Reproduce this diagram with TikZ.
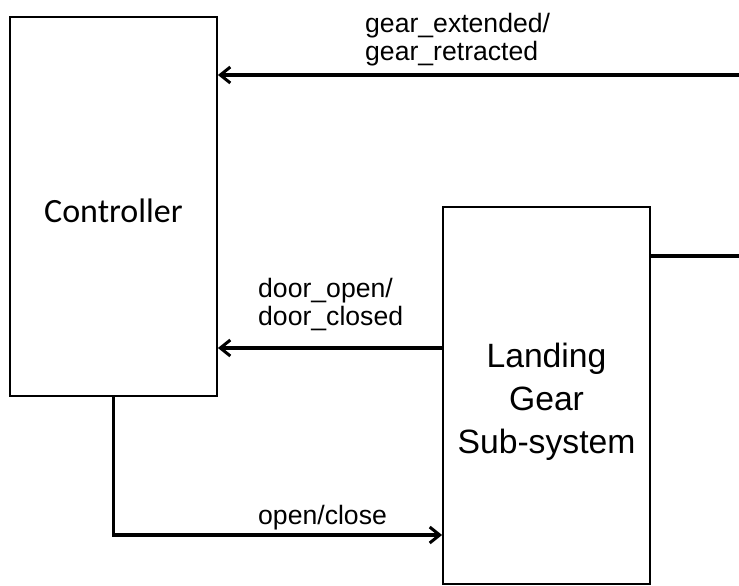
\documentclass[tikz,border=0pt]{standalone}
\usepackage{fontspec}
\setmainfont{Liberation Sans}
\newfontfamily\boxfont{Carlito}
\usetikzlibrary{arrows.meta}

\begin{document}
\begin{tikzpicture}[x=1pt,y=-1pt,
  block/.style={draw=black,line width=1.8pt,fill=white,inner sep=0pt},
  blocktext/.style={inner sep=0pt,align=center,anchor=base},
  link/.style={line width=3.6pt,line cap=butt},
  arr/.style={link,-{Straight Barb[length=10pt,width=16pt,line width=3pt]}},
  sig/.style={inner sep=0pt,align=left,anchor=base west,font=\fontsize{26.6}{28}\selectfont},
]
\useasboundingbox (0,0) rectangle (739,586);

% the two blocks
\node[block,minimum width=207pt,minimum height=379pt] (ctrl) at (113.5,206.5) {};
\node[block,minimum width=207pt,minimum height=377pt] (lg) at (546.5,395.5) {};
\node[blocktext,font=\boxfont\fontsize{34}{40}\selectfont] (ctrltxt) at (113.5,222) {Controller};
\node[blocktext,font=\fontsize{33.7}{43}\selectfont] (lgtxt) at (546.5,453) {Landing\\Gear\\Sub-system};

% free ends at the right margin
\coordinate (gin) at (739,75);
\coordinate (gout) at (739,256);
\coordinate (dr) at (0,348);
\coordinate (oc) at (0,535);

% connectors
\draw[arr] (gin) -- (ctrl.east |- gin);
\draw[link] (lg.east |- gout) -- (gout);
\draw[arr] (lg.west |- dr) -- (ctrl.east |- dr);
\draw[arr] (ctrl.south) |- (lg.west |- oc);

% signal labels (anchored at the baseline of their last line)
\node[sig] (lgear) at (365,60) {gear\_extended/\\gear\_retracted};
\node[sig] (ldoor) at (258,325) {door\_open/\\door\_closed};
\node[sig] (lopen) at (258,524) {open/close};
\end{tikzpicture}
\end{document}
